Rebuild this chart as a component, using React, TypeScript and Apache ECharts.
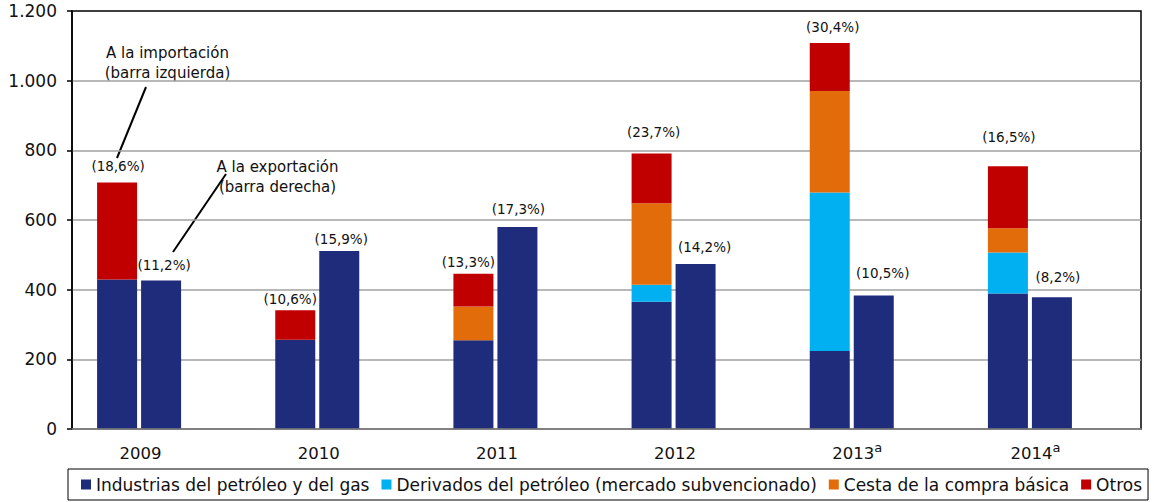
import React, { useEffect, useRef } from "react";
import * as echarts from "echarts";

const years = ["2009", "2010", "2011", "2012", "2013", "2014"];
const yearNotes = ["", "", "", "", "a", "a"];

const seriesNames = [
  "Industrias del petróleo y del gas",
  "Derivados del petróleo (mercado subvencionado)",
  "Cesta de la compra básica",
  "Otros",
];

// Import (left bar) stacked values
const impIndustrias = [429, 256, 255, 365, 224, 389];
const impDerivados = [0, 0, 0, 49, 455, 118];
const impCesta = [0, 0, 97, 234, 291, 69];
const impOtros = [279, 85, 94, 143, 138, 178];
// Export (right bar)
const expIndustrias = [426, 511, 580, 474, 383, 378];

const impPct = ["(18,6%)", "(10,6%)", "(13,3%)", "(23,7%)", "(30,4%)", "(16,5%)"];
const expPct = ["(11,2%)", "(15,9%)", "(17,3%)", "(14,2%)", "(10,5%)", "(8,2%)"];

// label styling (gap above bar, horizontal shift)
const impLabelGap = [9, 4, 5, 14, 9, 22];
const impLabelDx = [1, -5, -5, 2, 3, 1];
const expLabelGap = [9, 5, 11, 10, 16, 13];
const expLabelDx = [3, 2, 1, 9, 9, 6];

const colors = ["#1F2B7B", "#00B0F0", "#E36C0A", "#C00000"];
const FONT = "DejaVu Sans";

export default function App() {
  const ref = useRef<HTMLDivElement>(null);
  useEffect(() => {
    document.body.style.margin = "0";
    const chart = echarts.init(ref.current!, undefined, { renderer: "svg" });
    const barBase = { type: "bar", barWidth: 40, barGap: "10%" };
    const pctLabel = (pct: string[], gap: number[], dx: number[]) => ({
      show: true,
      position: "top",
      fontFamily: FONT,
      fontSize: 13.5,
      color: "#111",
      formatter: (p: any) => pct[p.dataIndex],
    });
    const withLabels = (vals: number[], gap: number[], dx: number[]) =>
      vals.map((v, i) => ({ value: v, label: { distance: gap[i], offset: [dx[i], 0] } }));

    chart.setOption({
      animation: false,
      textStyle: { fontFamily: FONT },
      grid: {
        left: 72,
        right: 13,
        top: 11,
        bottom: 73,
        show: true,
        borderColor: "#000",
        borderWidth: 1.5,
        backgroundColor: "transparent",
      },
      legend: {
        data: seriesNames,
        left: 68,
        top: 469,
        icon: "rect",
        itemWidth: 10,
        itemHeight: 10,
        itemGap: 12,
        padding: [7, 6, 7, 13],
        borderColor: "#000",
        borderWidth: 1,
        textStyle: { fontSize: 17, color: "#111", fontFamily: FONT },
      },
      xAxis: {
        type: "category",
        data: years,
        z: 5,
        axisLine: { lineStyle: { color: "#7f7f7f", width: 1.5 } },
        axisTick: { show: false },
        axisLabel: {
          margin: 11,
          formatter: (v: string, i: number) =>
            yearNotes[i] ? `{yn|${v}}{s|${yearNotes[i]}}` : `{y|${v}}`,
          rich: {
            y: { fontSize: 16.5, fontFamily: FONT, color: "#111", padding: [0, 41, 0, 0], lineHeight: 22, verticalAlign: "bottom" },
            yn: { fontSize: 16.5, fontFamily: FONT, color: "#111", lineHeight: 22, verticalAlign: "bottom" },
            s: { fontSize: 13, fontFamily: FONT, color: "#111", padding: [0, 33, 8, 0], lineHeight: 22, verticalAlign: "bottom" },
          },
        },
      },
      yAxis: {
        type: "value",
        min: 0,
        max: 1200,
        interval: 200,
        axisLine: { show: true, lineStyle: { color: "#000", width: 1.5 } },
        axisTick: { show: true, length: 5, lineStyle: { color: "#000", width: 1.5 } },
        axisLabel: {
          fontSize: 17,
          fontFamily: FONT,
          color: "#111",
          margin: 15,
          formatter: (v: number) => String(v).replace(/\B(?=(\d{3})+(?!\d))/g, "."),
        },
        splitLine: {
          show: true,
          showMaxLine: false,
          lineStyle: { color: "#a0a0a0", width: 1.5 },
        },
      },
      series: [
        { ...barBase, name: seriesNames[0], stack: "imp", data: impIndustrias, itemStyle: { color: colors[0] } },
        { ...barBase, name: seriesNames[1], stack: "imp", data: impDerivados, itemStyle: { color: colors[1] } },
        { ...barBase, name: seriesNames[2], stack: "imp", data: impCesta, itemStyle: { color: colors[2] } },
        {
          ...barBase,
          name: seriesNames[3],
          stack: "imp",
          data: withLabels(impOtros, impLabelGap, impLabelDx),
          itemStyle: { color: colors[3] },
          label: pctLabel(impPct, impLabelGap, impLabelDx),
        },
        {
          ...barBase,
          name: seriesNames[0],
          stack: "exp",
          data: withLabels(expIndustrias, expLabelGap, expLabelDx),
          itemStyle: { color: colors[0] },
          label: pctLabel(expPct, expLabelGap, expLabelDx),
        },
        {
          ...barBase,
          name: "spacer",
          stack: "spacer",
          data: years.map(() => 0),
          silent: true,
          itemStyle: { color: "transparent" },
        },
      ],
      graphic: [
        {
          type: "text",
          style: {
            text: "A la importación\n(barra izquierda)",
            x: 167.5,
            y: 43,
            align: "center",
            verticalAlign: "top",
            fontSize: 15,
            fontFamily: FONT,
            lineHeight: 20,
            fill: "#111",
          },
        },
        { type: "line", shape: { x1: 146, y1: 87, x2: 117, y2: 158 }, style: { stroke: "#000", lineWidth: 2 } },
        {
          type: "text",
          style: {
            text: "A la exportación\n(barra derecha)",
            x: 277.5,
            y: 157,
            align: "center",
            verticalAlign: "top",
            fontSize: 15,
            fontFamily: FONT,
            lineHeight: 20,
            fill: "#111",
          },
        },
        { type: "line", shape: { x1: 226, y1: 174, x2: 173, y2: 252 }, style: { stroke: "#000", lineWidth: 2 } },
      ],
    });
    return () => chart.dispose();
  }, []);
  return <div ref={ref} style={{ width: 1154, height: 502 }} />;
}
